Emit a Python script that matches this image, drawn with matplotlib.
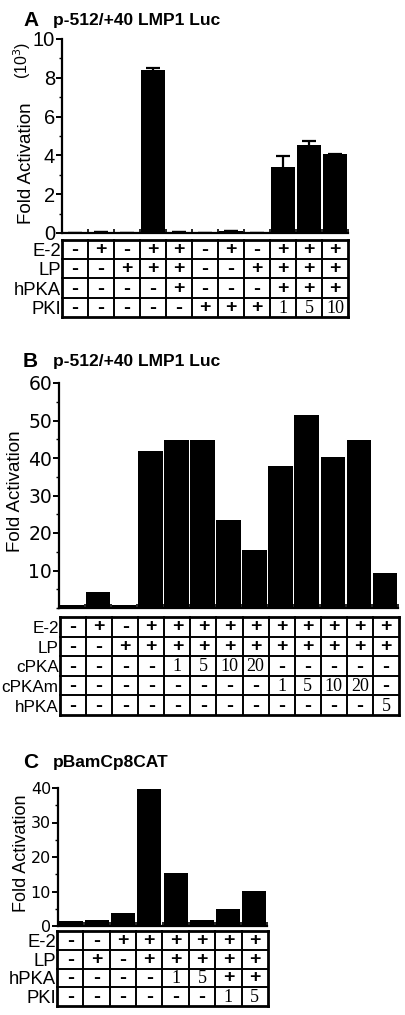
import matplotlib

matplotlib.use("Agg")
import matplotlib.pyplot as plt
from matplotlib.ticker import MultipleLocator

W, H = 406, 1015

# ---- panel A: p-512/+40 LMP1 Luc (x10^3)
a_vals = [0.0, 0.03, 0.0, 8.4, 0.06, 0.0, 0.12, 0.0, 3.4, 4.55, 4.05]
a_errs = [0, 0, 0, 0.12, 0, 0, 0, 0, 0.55, 0.17, 0.03]
a_rows = ["E-2", "LP", "hPKA", "PKI"]
a_cells = [
    ["-", "+", "-", "+", "+", "-", "+", "-", "+", "+", "+"],
    ["-", "-", "+", "+", "+", "-", "-", "+", "+", "+", "+"],
    ["-", "-", "-", "-", "+", "-", "-", "-", "+", "+", "+"],
    ["-", "-", "-", "-", "-", "+", "+", "+", "1", "5", "10"],
]

# ---- panel B: p-512/+40 LMP1 Luc
b_vals = [0.9, 4.3, 0.9, 41.8, 44.9, 44.7, 23.6, 15.4, 38.0, 51.4, 40.3, 44.7, 9.3]
b_rows = ["E-2", "LP", "cPKA", "cPKAm", "hPKA"]
b_cells = [
    ["-", "+", "-", "+", "+", "+", "+", "+", "+", "+", "+", "+", "+"],
    ["-", "-", "+", "+", "+", "+", "+", "+", "+", "+", "+", "+", "+"],
    ["-", "-", "-", "-", "1", "5", "10", "20", "-", "-", "-", "-", "-"],
    ["-", "-", "-", "-", "-", "-", "-", "-", "1", "5", "10", "20", "-"],
    ["-", "-", "-", "-", "-", "-", "-", "-", "-", "-", "-", "-", "5"],
]

# ---- panel C: pBamCp8CAT
c_vals = [1.4, 1.6, 3.8, 39.7, 15.4, 1.6, 4.8, 10.2]
c_rows = ["E-2", "LP", "hPKA", "PKI"]
c_cells = [
    ["-", "-", "+", "+", "+", "+", "+", "+"],
    ["-", "+", "-", "+", "+", "+", "+", "+"],
    ["-", "-", "-", "-", "1", "5", "+", "+"],
    ["-", "-", "-", "-", "-", "-", "1", "5"],
]

SANS = "Liberation Sans"
SERIF = "Liberation Serif"


def rect(l, t, r, b):
    # pixel box -> figure fraction
    return [l / W, 1 - b / H, (r - l) / W, (b - t) / H]


def ftext(x, y, s, **kw):
    # text placed by pixel position (from top-left)
    return fig.text(x / W, 1 - y / H, s, **kw)


def draw_table(ax, rows, cells, lab_fs=13.3):
    n = len(cells[0])
    nr = len(rows)
    ax.set_xlim(-0.5, n - 0.5)
    ax.set_ylim(nr, 0)
    ax.axis("off")
    for i in range(nr + 1):
        ax.plot([-0.5, n - 0.5], [i, i], color="black",
                lw=2.0 if i in (0, nr) else 1.4, clip_on=False, solid_capstyle="projecting")
    for j in range(n + 1):
        ax.plot([j - 0.5, j - 0.5], [0, nr], color="black",
                lw=2.0 if j in (0, n) else 1.4, clip_on=False, solid_capstyle="projecting")
    for i, row in enumerate(cells):
        for j, s in enumerate(row):
            if s in "+-":
                ax.text(j, i + 0.5, s, ha="center", va="center",
                        fontsize=14 if s == "+" else 15,
                        fontweight="bold", family=SANS)
            else:
                ax.text(j, i + 0.55, s, ha="center", va="center",
                        fontsize=13, family=SERIF)
        ax.text(-0.55, i + 0.6, rows[i], ha="right", va="center",
                fontsize=lab_fs, family=SANS)


def style_axis(ax, n):
    ax.set_xlim(-0.5, n - 0.5)
    for s in ("top", "right"):
        ax.spines[s].set_visible(False)
    ax.spines["left"].set_linewidth(1.6)
    ax.spines["bottom"].set_linewidth(1.6)
    ax.set_xticks([i - 0.5 for i in range(1, n + 1)])
    ax.set_xticklabels([])
    ax.tick_params(axis="x", direction="in", length=3, width=1.2)
    ax.tick_params(axis="y", which="major", length=4, width=1.4, pad=1)
    ax.tick_params(axis="y", which="minor", length=2, width=1.0)


fig = plt.figure(figsize=(W / 100, H / 100), dpi=100)

# ---- A
axA = fig.add_axes(rect(62, 39, 348, 233))
x = range(len(a_vals))
axA.bar(x, a_vals, width=0.9, color="black", yerr=a_errs,
        error_kw=dict(ecolor="black", elinewidth=1.6, capsize=5, capthick=1.6))
style_axis(axA, len(a_vals))
axA.set_ylim(0, 10)
axA.set_yticks([0, 2, 4, 6, 8, 10])
axA.yaxis.set_minor_locator(MultipleLocator(1))
for lab in axA.get_yticklabels():
    lab.set_fontsize(14.5)
    lab.set_family(SANS)
ftext(27, 163, "Fold Activation", rotation=90, ha="center", va="center",
      fontsize=13.5, family=SANS)
ftext(22, 60, "(10$^3$)", rotation=90, ha="center", va="center",
      fontsize=11.5, family=SANS)
ftext(23, 20, "A", fontsize=15, fontweight="bold", family=SANS, va="center")
ftext(53, 20, "p-512/+40 LMP1 Luc", fontsize=12.5, fontweight="bold",
      family=SANS, va="center")
tA = fig.add_axes(rect(62, 240, 348, 317))
draw_table(tA, a_rows, a_cells)

# ---- B
axB = fig.add_axes(rect(59, 383, 398, 608))
axB.bar(range(len(b_vals)), b_vals, width=0.94, color="black")
style_axis(axB, len(b_vals))
axB.set_ylim(0, 60)
axB.set_yticks([10, 20, 30, 40, 50, 60])
axB.yaxis.set_minor_locator(MultipleLocator(5))
for lab in axB.get_yticklabels():
    lab.set_fontsize(13.5)
    lab.set_family("DejaVu Sans")
ftext(16, 491, "Fold Activation", rotation=90, ha="center", va="center",
      fontsize=13.5, family=SANS)
ftext(23, 362, "B", fontsize=15, fontweight="bold", family=SANS, va="center")
ftext(53, 362, "p-512/+40 LMP1 Luc", fontsize=12.5, fontweight="bold",
      family=SANS, va="center")
tB = fig.add_axes(rect(60, 617, 399, 715))
draw_table(tB, b_rows, b_cells, lab_fs=12.3)

# ---- C
axC = fig.add_axes(rect(58, 788, 267, 926))
axC.bar(range(len(c_vals)), c_vals, width=0.92, color="black")
style_axis(axC, len(c_vals))
axC.set_ylim(0, 40)
axC.set_yticks([0, 10, 20, 30, 40])
axC.yaxis.set_minor_locator(MultipleLocator(5))
for lab in axC.get_yticklabels():
    lab.set_fontsize(11.5)
    lab.set_family("DejaVu Sans")
ftext(22, 853, "Fold Activation", rotation=90, ha="center", va="center",
      fontsize=13, family=SANS)
ftext(23, 762, "C", fontsize=15, fontweight="bold", family=SANS, va="center")
ftext(53, 762, "pBamCp8CAT", fontsize=12.5, fontweight="bold",
      family=SANS, va="center")
tC = fig.add_axes(rect(57, 931, 268, 1006))
draw_table(tC, c_rows, c_cells)

fig.savefig("out.png", dpi=100)
